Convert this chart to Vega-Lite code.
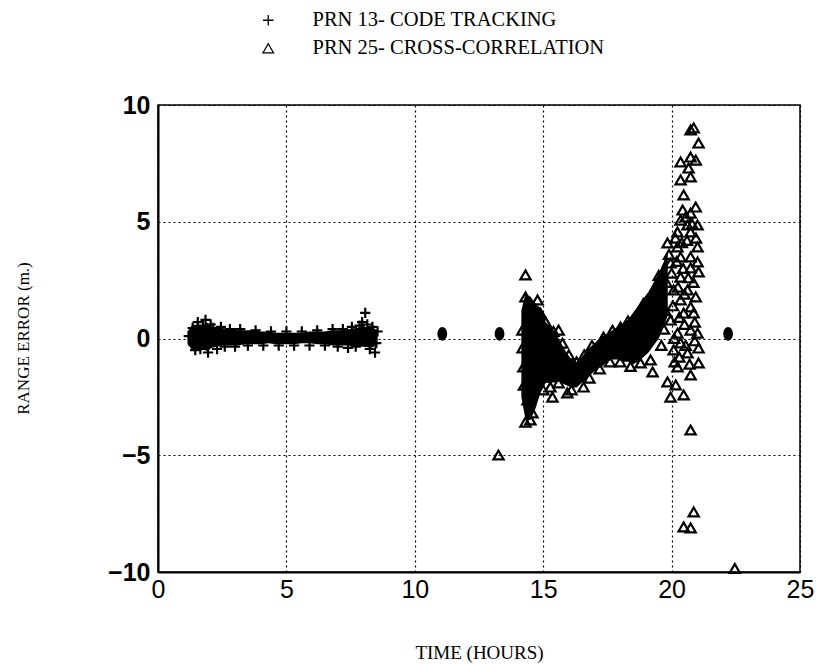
{
  "$schema": "https://vega.github.io/schema/vega-lite/v6.json",
  "autosize": {"type": "none"},
  "padding": {"left": 158, "top": 105, "right": 16, "bottom": 92},
  "width": 642,
  "height": 467,
  "background": "white",
  "config": {
    "view": {"stroke": "black", "strokeWidth": 1.5},
    "axis": {
      "grid": true, "gridColor": "black", "gridDash": [2, 3], "gridWidth": 1.2, "gridOpacity": 1,
      "ticks": false, "domain": true, "domainColor": "black", "domainWidth": 2,
      "labelColor": "black", "labelFont": "Liberation Sans", "labelFlush": false, "labelOverlap": false,
      "titleColor": "black", "titleFont": "Liberation Serif", "titleFontWeight": "normal"
    }
  },
  "datasets": {
    "band13": [
      {"x": 1.15, "lo": -0.25, "hi": 0.3},
      {"x": 1.3, "lo": -0.45, "hi": 0.55},
      {"x": 1.5, "lo": -0.5, "hi": 0.6},
      {"x": 1.7, "lo": -0.4, "hi": 0.5},
      {"x": 1.9, "lo": -0.55, "hi": 0.7},
      {"x": 2.1, "lo": -0.4, "hi": 0.45},
      {"x": 2.3, "lo": -0.35, "hi": 0.5},
      {"x": 2.5, "lo": -0.3, "hi": 0.45},
      {"x": 2.8, "lo": -0.3, "hi": 0.4},
      {"x": 3.1, "lo": -0.3, "hi": 0.35},
      {"x": 3.4, "lo": -0.25, "hi": 0.35},
      {"x": 3.7, "lo": -0.25, "hi": 0.35},
      {"x": 4.0, "lo": -0.25, "hi": 0.3},
      {"x": 4.3, "lo": -0.2, "hi": 0.3},
      {"x": 4.6, "lo": -0.25, "hi": 0.25},
      {"x": 5.0, "lo": -0.25, "hi": 0.25},
      {"x": 5.3, "lo": -0.25, "hi": 0.25},
      {"x": 5.6, "lo": -0.2, "hi": 0.25},
      {"x": 5.9, "lo": -0.2, "hi": 0.3},
      {"x": 6.2, "lo": -0.25, "hi": 0.3},
      {"x": 6.5, "lo": -0.25, "hi": 0.3},
      {"x": 6.8, "lo": -0.3, "hi": 0.35},
      {"x": 7.1, "lo": -0.3, "hi": 0.35},
      {"x": 7.4, "lo": -0.3, "hi": 0.4},
      {"x": 7.7, "lo": -0.35, "hi": 0.45},
      {"x": 8.0, "lo": -0.35, "hi": 0.5},
      {"x": 8.3, "lo": -0.4, "hi": 0.5},
      {"x": 8.55, "lo": -0.3, "hi": 0.35}
    ],
    "band25": [
      {"x": 14.15, "lo": -2.5, "hi": 1.2},
      {"x": 14.3, "lo": -3.4, "hi": 1.9},
      {"x": 14.5, "lo": -3.5, "hi": 1.8},
      {"x": 14.7, "lo": -3.0, "hi": 1.5},
      {"x": 14.9, "lo": -2.3, "hi": 1.3},
      {"x": 15.1, "lo": -1.9, "hi": 0.7},
      {"x": 15.3, "lo": -1.9, "hi": 0.5},
      {"x": 15.5, "lo": -1.8, "hi": 0.2},
      {"x": 15.7, "lo": -1.9, "hi": -0.2},
      {"x": 15.9, "lo": -2.0, "hi": -0.6},
      {"x": 16.1, "lo": -2.1, "hi": -0.9},
      {"x": 16.3, "lo": -2.1, "hi": -1.0},
      {"x": 16.5, "lo": -1.9, "hi": -0.8},
      {"x": 16.7, "lo": -1.7, "hi": -0.5},
      {"x": 16.9, "lo": -1.5, "hi": -0.3},
      {"x": 17.1, "lo": -1.3, "hi": -0.1},
      {"x": 17.3, "lo": -1.2, "hi": 0.1},
      {"x": 17.5, "lo": -1.0, "hi": 0.2},
      {"x": 17.7, "lo": -0.9, "hi": 0.35},
      {"x": 17.9, "lo": -0.9, "hi": 0.5},
      {"x": 18.1, "lo": -1.0, "hi": 0.65},
      {"x": 18.3, "lo": -1.0, "hi": 0.8},
      {"x": 18.5, "lo": -1.1, "hi": 1.1},
      {"x": 18.7, "lo": -1.0, "hi": 1.4},
      {"x": 18.9, "lo": -0.8, "hi": 1.7},
      {"x": 19.1, "lo": -0.6, "hi": 2.0},
      {"x": 19.3, "lo": -0.3, "hi": 2.4},
      {"x": 19.5, "lo": 0.0, "hi": 2.8},
      {"x": 19.7, "lo": 0.5, "hi": 3.3},
      {"x": 19.85, "lo": 1.0, "hi": 3.8}
    ],
    "dots": [
      {"x": 11.07, "y": 0.2},
      {"x": 13.3, "y": 0.2},
      {"x": 22.2, "y": 0.2}
    ],
    "pts": [
      {"x": 1.2, "y": 0.1, "series": "PRN 13- CODE TRACKING"},
      {"x": 1.35, "y": 0.45, "series": "PRN 13- CODE TRACKING"},
      {"x": 1.45, "y": -0.5, "series": "PRN 13- CODE TRACKING"},
      {"x": 1.55, "y": 0.7, "series": "PRN 13- CODE TRACKING"},
      {"x": 1.65, "y": -0.45, "series": "PRN 13- CODE TRACKING"},
      {"x": 1.75, "y": 0.55, "series": "PRN 13- CODE TRACKING"},
      {"x": 1.85, "y": 0.8, "series": "PRN 13- CODE TRACKING"},
      {"x": 1.95, "y": -0.6, "series": "PRN 13- CODE TRACKING"},
      {"x": 2.05, "y": 0.6, "series": "PRN 13- CODE TRACKING"},
      {"x": 2.15, "y": 0.45, "series": "PRN 13- CODE TRACKING"},
      {"x": 2.3, "y": -0.45, "series": "PRN 13- CODE TRACKING"},
      {"x": 2.45, "y": 0.5, "series": "PRN 13- CODE TRACKING"},
      {"x": 2.6, "y": -0.35, "series": "PRN 13- CODE TRACKING"},
      {"x": 2.8, "y": 0.4, "series": "PRN 13- CODE TRACKING"},
      {"x": 3.0, "y": -0.35, "series": "PRN 13- CODE TRACKING"},
      {"x": 3.2, "y": 0.4, "series": "PRN 13- CODE TRACKING"},
      {"x": 3.5, "y": -0.3, "series": "PRN 13- CODE TRACKING"},
      {"x": 3.8, "y": 0.35, "series": "PRN 13- CODE TRACKING"},
      {"x": 4.1, "y": -0.3, "series": "PRN 13- CODE TRACKING"},
      {"x": 4.4, "y": 0.3, "series": "PRN 13- CODE TRACKING"},
      {"x": 4.7, "y": -0.3, "series": "PRN 13- CODE TRACKING"},
      {"x": 5.0, "y": 0.3, "series": "PRN 13- CODE TRACKING"},
      {"x": 5.3, "y": -0.3, "series": "PRN 13- CODE TRACKING"},
      {"x": 5.6, "y": 0.3, "series": "PRN 13- CODE TRACKING"},
      {"x": 5.9, "y": -0.3, "series": "PRN 13- CODE TRACKING"},
      {"x": 6.2, "y": 0.35, "series": "PRN 13- CODE TRACKING"},
      {"x": 6.5, "y": -0.3, "series": "PRN 13- CODE TRACKING"},
      {"x": 6.8, "y": 0.4, "series": "PRN 13- CODE TRACKING"},
      {"x": 7.0, "y": -0.35, "series": "PRN 13- CODE TRACKING"},
      {"x": 7.2, "y": 0.4, "series": "PRN 13- CODE TRACKING"},
      {"x": 7.4, "y": -0.4, "series": "PRN 13- CODE TRACKING"},
      {"x": 7.55, "y": 0.5, "series": "PRN 13- CODE TRACKING"},
      {"x": 7.7, "y": -0.35, "series": "PRN 13- CODE TRACKING"},
      {"x": 7.85, "y": 0.55, "series": "PRN 13- CODE TRACKING"},
      {"x": 7.95, "y": 0.7, "series": "PRN 13- CODE TRACKING"},
      {"x": 8.07, "y": 1.1, "series": "PRN 13- CODE TRACKING"},
      {"x": 8.15, "y": 0.6, "series": "PRN 13- CODE TRACKING"},
      {"x": 8.25, "y": -0.45, "series": "PRN 13- CODE TRACKING"},
      {"x": 8.35, "y": 0.5, "series": "PRN 13- CODE TRACKING"},
      {"x": 8.45, "y": -0.6, "series": "PRN 13- CODE TRACKING"},
      {"x": 8.55, "y": 0.3, "series": "PRN 13- CODE TRACKING"},
      {"x": 8.5, "y": -0.2, "series": "PRN 13- CODE TRACKING"},
      {"x": 13.26, "y": -4.99, "series": "PRN 25- CROSS-CORRELATION"},
      {"x": 14.31, "y": 2.72, "series": "PRN 25- CROSS-CORRELATION"},
      {"x": 14.31, "y": 1.78, "series": "PRN 25- CROSS-CORRELATION"},
      {"x": 14.45, "y": 1.5, "series": "PRN 25- CROSS-CORRELATION"},
      {"x": 14.78, "y": 1.65, "series": "PRN 25- CROSS-CORRELATION"},
      {"x": 14.19, "y": 0.36, "series": "PRN 25- CROSS-CORRELATION"},
      {"x": 14.2, "y": -0.4, "series": "PRN 25- CROSS-CORRELATION"},
      {"x": 14.23, "y": -1.22, "series": "PRN 25- CROSS-CORRELATION"},
      {"x": 14.25, "y": -2.0, "series": "PRN 25- CROSS-CORRELATION"},
      {"x": 14.39, "y": -2.63, "series": "PRN 25- CROSS-CORRELATION"},
      {"x": 14.5, "y": -3.49, "series": "PRN 25- CROSS-CORRELATION"},
      {"x": 14.31, "y": -3.58, "series": "PRN 25- CROSS-CORRELATION"},
      {"x": 14.58, "y": -3.19, "series": "PRN 25- CROSS-CORRELATION"},
      {"x": 14.89, "y": 1.09, "series": "PRN 25- CROSS-CORRELATION"},
      {"x": 14.62, "y": -1.91, "series": "PRN 25- CROSS-CORRELATION"},
      {"x": 14.89, "y": -0.49, "series": "PRN 25- CROSS-CORRELATION"},
      {"x": 15.6, "y": 0.36, "series": "PRN 25- CROSS-CORRELATION"},
      {"x": 15.28, "y": -2.08, "series": "PRN 25- CROSS-CORRELATION"},
      {"x": 15.36, "y": -2.51, "series": "PRN 25- CROSS-CORRELATION"},
      {"x": 15.94, "y": -2.33, "series": "PRN 25- CROSS-CORRELATION"},
      {"x": 16.57, "y": -2.08, "series": "PRN 25- CROSS-CORRELATION"},
      {"x": 15.28, "y": -1.65, "series": "PRN 25- CROSS-CORRELATION"},
      {"x": 15.1, "y": 0.7, "series": "PRN 25- CROSS-CORRELATION"},
      {"x": 15.4, "y": 0.3, "series": "PRN 25- CROSS-CORRELATION"},
      {"x": 15.75, "y": -0.2, "series": "PRN 25- CROSS-CORRELATION"},
      {"x": 16.0, "y": -0.7, "series": "PRN 25- CROSS-CORRELATION"},
      {"x": 16.3, "y": -1.0, "series": "PRN 25- CROSS-CORRELATION"},
      {"x": 16.6, "y": -0.7, "series": "PRN 25- CROSS-CORRELATION"},
      {"x": 16.9, "y": -0.3, "series": "PRN 25- CROSS-CORRELATION"},
      {"x": 17.35, "y": 0.06, "series": "PRN 25- CROSS-CORRELATION"},
      {"x": 17.7, "y": 0.35, "series": "PRN 25- CROSS-CORRELATION"},
      {"x": 18.01, "y": 0.49, "series": "PRN 25- CROSS-CORRELATION"},
      {"x": 18.3, "y": 0.75, "series": "PRN 25- CROSS-CORRELATION"},
      {"x": 18.67, "y": 0.79, "series": "PRN 25- CROSS-CORRELATION"},
      {"x": 18.9, "y": 1.5, "series": "PRN 25- CROSS-CORRELATION"},
      {"x": 19.3, "y": 1.95, "series": "PRN 25- CROSS-CORRELATION"},
      {"x": 19.5, "y": 2.7, "series": "PRN 25- CROSS-CORRELATION"},
      {"x": 15.0, "y": -2.2, "series": "PRN 25- CROSS-CORRELATION"},
      {"x": 15.6, "y": -1.9, "series": "PRN 25- CROSS-CORRELATION"},
      {"x": 16.1, "y": -2.2, "series": "PRN 25- CROSS-CORRELATION"},
      {"x": 16.8, "y": -1.7, "series": "PRN 25- CROSS-CORRELATION"},
      {"x": 17.2, "y": -1.3, "series": "PRN 25- CROSS-CORRELATION"},
      {"x": 17.6, "y": -1.0, "series": "PRN 25- CROSS-CORRELATION"},
      {"x": 18.0, "y": -1.0, "series": "PRN 25- CROSS-CORRELATION"},
      {"x": 18.4, "y": -1.2, "series": "PRN 25- CROSS-CORRELATION"},
      {"x": 18.79, "y": -1.05, "series": "PRN 25- CROSS-CORRELATION"},
      {"x": 19.18, "y": -0.92, "series": "PRN 25- CROSS-CORRELATION"},
      {"x": 19.26, "y": -1.43, "series": "PRN 25- CROSS-CORRELATION"},
      {"x": 19.6, "y": -0.3, "series": "PRN 25- CROSS-CORRELATION"},
      {"x": 19.7, "y": 0.4, "series": "PRN 25- CROSS-CORRELATION"},
      {"x": 19.75, "y": 1.2, "series": "PRN 25- CROSS-CORRELATION"},
      {"x": 19.8, "y": 2.4, "series": "PRN 25- CROSS-CORRELATION"},
      {"x": 19.9, "y": 3.6, "series": "PRN 25- CROSS-CORRELATION"},
      {"x": 20.0, "y": 2.8, "series": "PRN 25- CROSS-CORRELATION"},
      {"x": 20.05, "y": 1.4, "series": "PRN 25- CROSS-CORRELATION"},
      {"x": 20.1, "y": 0.0, "series": "PRN 25- CROSS-CORRELATION"},
      {"x": 20.12, "y": -1.0, "series": "PRN 25- CROSS-CORRELATION"},
      {"x": 20.15, "y": 4.3, "series": "PRN 25- CROSS-CORRELATION"},
      {"x": 20.2, "y": 3.3, "series": "PRN 25- CROSS-CORRELATION"},
      {"x": 20.25, "y": 2.2, "series": "PRN 25- CROSS-CORRELATION"},
      {"x": 20.3, "y": 0.9, "series": "PRN 25- CROSS-CORRELATION"},
      {"x": 20.3, "y": -0.8, "series": "PRN 25- CROSS-CORRELATION"},
      {"x": 20.4, "y": 4.1, "series": "PRN 25- CROSS-CORRELATION"},
      {"x": 20.45, "y": 3.0, "series": "PRN 25- CROSS-CORRELATION"},
      {"x": 20.5, "y": 1.9, "series": "PRN 25- CROSS-CORRELATION"},
      {"x": 20.5, "y": 0.6, "series": "PRN 25- CROSS-CORRELATION"},
      {"x": 20.55, "y": -0.3, "series": "PRN 25- CROSS-CORRELATION"},
      {"x": 20.55, "y": 5.2, "series": "PRN 25- CROSS-CORRELATION"},
      {"x": 20.6, "y": 4.2, "series": "PRN 25- CROSS-CORRELATION"},
      {"x": 20.65, "y": 2.6, "series": "PRN 25- CROSS-CORRELATION"},
      {"x": 20.7, "y": -1.1, "series": "PRN 25- CROSS-CORRELATION"},
      {"x": 20.8, "y": 4.9, "series": "PRN 25- CROSS-CORRELATION"},
      {"x": 20.85, "y": 2.4, "series": "PRN 25- CROSS-CORRELATION"},
      {"x": 20.9, "y": 0.7, "series": "PRN 25- CROSS-CORRELATION"},
      {"x": 20.9, "y": -0.1, "series": "PRN 25- CROSS-CORRELATION"},
      {"x": 20.95, "y": 4.3, "series": "PRN 25- CROSS-CORRELATION"},
      {"x": 20.86, "y": 9.02, "series": "PRN 25- CROSS-CORRELATION"},
      {"x": 20.74, "y": 8.93, "series": "PRN 25- CROSS-CORRELATION"},
      {"x": 21.05, "y": 8.37, "series": "PRN 25- CROSS-CORRELATION"},
      {"x": 20.35, "y": 7.56, "series": "PRN 25- CROSS-CORRELATION"},
      {"x": 20.74, "y": 7.77, "series": "PRN 25- CROSS-CORRELATION"},
      {"x": 20.94, "y": 7.64, "series": "PRN 25- CROSS-CORRELATION"},
      {"x": 20.66, "y": 7.3, "series": "PRN 25- CROSS-CORRELATION"},
      {"x": 20.35, "y": 6.79, "series": "PRN 25- CROSS-CORRELATION"},
      {"x": 20.74, "y": 6.92, "series": "PRN 25- CROSS-CORRELATION"},
      {"x": 20.47, "y": 6.15, "series": "PRN 25- CROSS-CORRELATION"},
      {"x": 20.94, "y": 5.63, "series": "PRN 25- CROSS-CORRELATION"},
      {"x": 20.43, "y": 5.5, "series": "PRN 25- CROSS-CORRELATION"},
      {"x": 20.74, "y": 5.37, "series": "PRN 25- CROSS-CORRELATION"},
      {"x": 20.35, "y": 5.07, "series": "PRN 25- CROSS-CORRELATION"},
      {"x": 20.62, "y": 4.86, "series": "PRN 25- CROSS-CORRELATION"},
      {"x": 21.01, "y": 4.86, "series": "PRN 25- CROSS-CORRELATION"},
      {"x": 20.23, "y": 4.56, "series": "PRN 25- CROSS-CORRELATION"},
      {"x": 20.74, "y": 4.56, "series": "PRN 25- CROSS-CORRELATION"},
      {"x": 19.84, "y": 4.09, "series": "PRN 25- CROSS-CORRELATION"},
      {"x": 20.23, "y": 3.92, "series": "PRN 25- CROSS-CORRELATION"},
      {"x": 21.01, "y": 3.92, "series": "PRN 25- CROSS-CORRELATION"},
      {"x": 20.35, "y": 3.49, "series": "PRN 25- CROSS-CORRELATION"},
      {"x": 20.74, "y": 3.49, "series": "PRN 25- CROSS-CORRELATION"},
      {"x": 19.96, "y": 3.23, "series": "PRN 25- CROSS-CORRELATION"},
      {"x": 21.01, "y": 3.28, "series": "PRN 25- CROSS-CORRELATION"},
      {"x": 21.05, "y": 2.85, "series": "PRN 25- CROSS-CORRELATION"},
      {"x": 20.35, "y": 2.63, "series": "PRN 25- CROSS-CORRELATION"},
      {"x": 20.74, "y": 3.02, "series": "PRN 25- CROSS-CORRELATION"},
      {"x": 20.08, "y": 2.08, "series": "PRN 25- CROSS-CORRELATION"},
      {"x": 20.62, "y": 2.08, "series": "PRN 25- CROSS-CORRELATION"},
      {"x": 20.94, "y": 1.78, "series": "PRN 25- CROSS-CORRELATION"},
      {"x": 20.35, "y": 1.65, "series": "PRN 25- CROSS-CORRELATION"},
      {"x": 20.74, "y": 1.35, "series": "PRN 25- CROSS-CORRELATION"},
      {"x": 20.47, "y": 1.09, "series": "PRN 25- CROSS-CORRELATION"},
      {"x": 20.86, "y": 1.09, "series": "PRN 25- CROSS-CORRELATION"},
      {"x": 19.96, "y": 0.79, "series": "PRN 25- CROSS-CORRELATION"},
      {"x": 20.74, "y": 0.36, "series": "PRN 25- CROSS-CORRELATION"},
      {"x": 21.01, "y": 0.23, "series": "PRN 25- CROSS-CORRELATION"},
      {"x": 20.23, "y": 0.23, "series": "PRN 25- CROSS-CORRELATION"},
      {"x": 20.35, "y": -0.19, "series": "PRN 25- CROSS-CORRELATION"},
      {"x": 21.05, "y": -0.41, "series": "PRN 25- CROSS-CORRELATION"},
      {"x": 20.08, "y": -0.49, "series": "PRN 25- CROSS-CORRELATION"},
      {"x": 20.62, "y": -0.62, "series": "PRN 25- CROSS-CORRELATION"},
      {"x": 21.05, "y": -1.05, "series": "PRN 25- CROSS-CORRELATION"},
      {"x": 20.23, "y": -1.22, "series": "PRN 25- CROSS-CORRELATION"},
      {"x": 20.74, "y": -1.56, "series": "PRN 25- CROSS-CORRELATION"},
      {"x": 19.84, "y": -1.86, "series": "PRN 25- CROSS-CORRELATION"},
      {"x": 20.16, "y": -1.99, "series": "PRN 25- CROSS-CORRELATION"},
      {"x": 19.96, "y": -2.51, "series": "PRN 25- CROSS-CORRELATION"},
      {"x": 20.47, "y": -2.42, "series": "PRN 25- CROSS-CORRELATION"},
      {"x": 20.74, "y": -3.92, "series": "PRN 25- CROSS-CORRELATION"},
      {"x": 20.86, "y": -7.43, "series": "PRN 25- CROSS-CORRELATION"},
      {"x": 20.47, "y": -8.07, "series": "PRN 25- CROSS-CORRELATION"},
      {"x": 20.74, "y": -8.11, "series": "PRN 25- CROSS-CORRELATION"},
      {"x": 22.46, "y": -9.85, "series": "PRN 25- CROSS-CORRELATION"}
    ]
  },
  "layer": [
    {
      "data": {"name": "band13"},
      "mark": {"type": "area", "color": "black", "opacity": 1},
      "encoding": {
        "x": {"field": "x", "type": "quantitative", "scale": {"domain": [0, 25], "nice": false},
          "axis": {"values": [0, 5, 10, 15, 20, 25], "title": "TIME (HOURS)", "labelFontSize": 25, "labelPadding": 5, "titleFontSize": 19, "titleY": 80, "titleBaseline": "middle"}},
        "y": {"field": "lo", "type": "quantitative", "scale": {"domain": [-10, 10], "nice": false},
          "axis": {"values": [-10, -5, 0, 5, 10], "title": "RANGE ERROR (m.)", "labelFontSize": 25, "labelFontWeight": "bold", "labelPadding": 8, "titleFontSize": 17, "titleX": -126, "titleY": 233}},
        "y2": {"field": "hi"}
      }
    },
    {
      "data": {"name": "band25"},
      "mark": {"type": "area", "color": "black", "opacity": 1},
      "encoding": {
        "x": {"field": "x", "type": "quantitative"},
        "y": {"field": "lo", "type": "quantitative"},
        "y2": {"field": "hi"}
      }
    },
    {
      "data": {"name": "pts"},
      "mark": {"type": "point", "filled": false, "color": "black", "strokeWidth": 2.2, "size": 105, "opacity": 1},
      "encoding": {
        "x": {"field": "x", "type": "quantitative"},
        "y": {"field": "y", "type": "quantitative"},
        "shape": {
          "field": "series", "type": "nominal",
          "scale": {"domain": ["PRN 13- CODE TRACKING", "PRN 25- CROSS-CORRELATION"], "range": ["M-1,0H1M0,-1V1", "triangle-up"]},
          "legend": {
            "title": null, "orient": "none", "legendX": 100, "legendY": -95, "padding": 0,
            "labelFont": "Liberation Serif", "labelFontSize": 20.5, "labelColor": "black", "labelOffset": 34, "labelLimit": 0,
            "rowPadding": 7, "symbolSize": 110, "symbolStrokeColor": "black", "symbolStrokeWidth": 1.3, "symbolFillColor": "transparent"
          }
        }
      }
    },
    {
      "data": {"name": "dots"},
      "mark": {"type": "point", "filled": true, "color": "black", "size": 130, "opacity": 1, "shape": "M0,-1.2A0.85,1.2 0 1,1 0,1.2A0.85,1.2 0 1,1 0,-1.2Z"},
      "encoding": {
        "x": {"field": "x", "type": "quantitative"},
        "y": {"field": "y", "type": "quantitative"}
      }
    }
  ]
}
